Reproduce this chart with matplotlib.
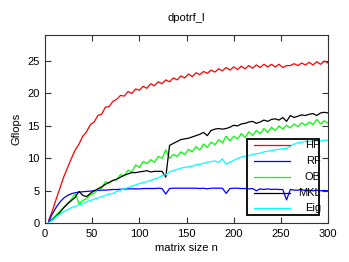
import numpy as np
import matplotlib
matplotlib.use("Agg")
import matplotlib.pyplot as plt
from matplotlib.patches import Rectangle
from matplotlib.lines import Line2D

plt.rcParams['font.family'] = ['Liberation Sans', 'DejaVu Sans']

# matrix sizes
n = list(range(4, 301, 4))

hp = [0.5, 2.0, 3.8, 5.5, 7.2, 8.6, 10.0, 11.3, 12.2, 13.4, 14.1, 15.2, 15.6, 16.6, 16.8,
      17.9, 18.0, 18.8, 19.1, 19.7, 19.6, 20.3, 20.0, 20.7, 20.5, 21.1, 20.8, 21.5, 21.2, 21.8,
      21.5, 22.1, 21.8, 22.4, 22.1, 22.7, 22.4, 23.0, 22.6, 23.2, 22.9, 23.4, 23.1, 23.6, 23.3,
      23.8, 23.5, 24.0, 23.6, 24.1, 23.7, 24.2, 23.8, 24.3, 23.9, 24.4, 24.0, 24.5, 24.1, 24.5,
      24.1, 24.5, 24.0, 24.3, 24.3, 24.6, 24.3, 24.7, 24.4, 24.8, 24.4, 24.9, 24.5, 25.0, 24.7]

rf = [0.3, 1.5, 2.5, 3.3, 3.9, 4.3, 4.55, 4.7, 4.8, 4.85, 4.9, 4.95, 5.0, 5.05, 5.1,
      5.1, 5.15, 5.2, 5.2, 5.25, 5.25, 5.3, 5.3, 5.3, 5.3, 5.35, 5.35, 5.35, 5.35, 5.4,
      5.35, 4.5, 5.35, 5.4, 5.4, 5.4, 5.4, 5.4, 5.4, 5.4, 5.35, 5.4, 5.3, 5.4, 5.4,
      5.4, 5.4, 4.6, 5.35, 5.4, 5.4, 5.35, 5.35, 5.3, 5.35, 5.0, 5.3, 5.2, 5.3, 5.2,
      5.25, 5.2, 5.2, 3.6, 5.2, 5.1, 5.1, 5.2, 5.0, 5.1, 5.0, 5.1, 5.0, 5.05, 5.0]

ob = [0.2, 0.7, 1.3, 1.9, 2.5, 3.1, 3.7, 4.6, 3.0, 3.5, 3.8, 4.4, 4.6, 5.2, 5.4,
      6.4, 6.2, 6.6, 6.7, 7.5, 7.3, 8.2, 7.9, 9.0, 8.6, 9.5, 9.2, 9.8, 9.4, 10.3,
      10.0, 11.3, 10.0, 10.6, 10.3, 11.0, 10.6, 11.4, 11.0, 11.8, 11.3, 12.2, 11.7, 12.5, 12.1,
      12.9, 12.4, 13.4, 12.7, 13.4, 13.0, 13.8, 13.2, 14.1, 13.5, 14.3, 13.8, 14.6, 14.0, 14.8,
      14.3, 15.0, 14.5, 15.1, 14.7, 15.3, 14.9, 15.5, 15.1, 15.6, 15.2, 16.0, 15.3, 15.8, 15.4]

mkl = [0.2, 0.6, 1.1, 1.7, 2.4, 3.0, 3.5, 4.0, 4.9, 4.3, 4.1, 4.6, 5.0, 5.3, 5.6,
       6.0, 6.3, 6.6, 6.8, 7.1, 7.4, 7.6, 7.8, 7.8, 7.9, 8.0, 8.1, 7.9, 8.0, 8.0,
       8.0, 7.1, 12.0, 12.3, 12.6, 12.9, 13.0, 13.1, 13.3, 13.5, 13.7, 14.0, 13.5, 14.3, 14.5,
       14.6, 14.5, 14.6, 14.8, 15.1, 15.0, 15.3, 15.4, 15.6, 15.7, 15.4, 15.6, 15.9, 15.7, 16.0,
       16.1, 15.9, 16.3, 15.7, 16.6, 16.3, 16.5, 16.7, 16.6, 16.8, 16.9, 16.6, 17.0, 17.1, 17.0]

eig = [0.1, 0.5, 1.0, 1.4, 1.8, 2.1, 2.4, 2.6, 2.8, 3.0, 3.3, 3.5, 3.7, 3.9, 4.1,
       4.3, 4.5, 4.6, 4.9, 5.1, 5.3, 5.5, 5.7, 5.9, 6.1, 6.3, 6.4, 6.6, 6.8, 7.0,
       7.3, 7.5, 7.9, 8.1, 8.3, 8.5, 8.6, 8.7, 8.8, 9.0, 9.1, 9.2, 9.4, 9.5, 9.6,
       9.4, 9.9, 9.1, 9.4, 9.7, 10.0, 10.2, 10.3, 10.4, 10.6, 10.7, 10.8, 11.0, 11.1, 11.2,
       11.3, 11.4, 11.5, 11.5, 11.9, 12.2, 12.4, 12.5, 12.6, 12.6, 12.7, 12.7, 12.7, 12.8, 12.8]

labels = ["HP", "RF", "OB", "MKL", "Eig"]
colors = ["#ff0000", "#0000ff", "#00ff00", "#000000", "#00ffff"]
series = [hp, rf, ob, mkl, eig]

fig = plt.figure(figsize=(3.49, 2.62), dpi=100)
ax = fig.add_axes([0.129, 0.148, 0.811, 0.718])

for ys, c in zip(series, colors):
    ax.plot(n, ys, color=c, lw=0.9)

ax.set_xlim(0, 300)
ax.set_ylim(0, 29)
ax.set_xticks(range(0, 301, 50))
ax.set_yticks(range(0, 26, 5))
ax.tick_params(direction='in', length=4, width=0.8, top=True, right=True,
               labelsize=8, pad=4, color='#333333')
for s in ax.spines.values():
    s.set_linewidth(0.8)
    s.set_color('#333333')

ax.set_xlabel("matrix size n", fontsize=8, labelpad=3)
ax.set_ylabel("Gflops", fontsize=8, labelpad=4)
fig.text(0.535, 0.931, "dpotrf_l", ha='center', va='center', fontsize=8)

# gnuplot-like legend: line first, right-aligned label, no fill
ax.add_patch(Rectangle((0.714, 0.044), 0.254, 0.404, transform=ax.transAxes,
                       fill=False, ec='black', lw=1.3, zorder=5))
rows = [0.416, 0.330, 0.246, 0.161, 0.081]
for lab, c, yy in zip(labels, colors, rows):
    ax.add_line(Line2D([0.739, 0.866], [yy, yy], transform=ax.transAxes, color=c, lw=0.9, zorder=6))
    ax.text(0.975, yy, lab, transform=ax.transAxes, ha='right', va='center', fontsize=8, zorder=6)

fig.savefig("out.png", dpi=100)
